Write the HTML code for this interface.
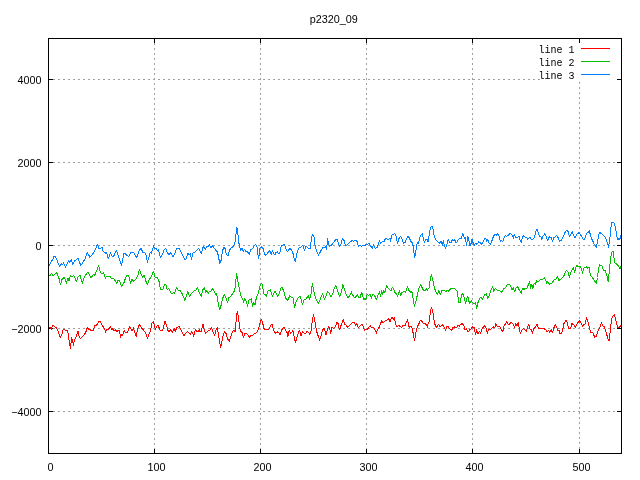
<!DOCTYPE html>
<html><head><meta charset="utf-8"><title>p2320_09</title>
<style>
html,body{margin:0;padding:0;background:#fff;}
body{width:640px;height:480px;overflow:hidden;}
svg{display:block;}
.t{font-family:"Liberation Sans","DejaVu Sans",sans-serif;font-size:10.8px;fill:#000;}
.k{font-family:"Liberation Mono","DejaVu Sans Mono",monospace;font-size:10px;fill:#000;}
</style></head><body>
<svg width="640" height="480" viewBox="0 0 640 480">
<rect width="640" height="480" fill="#fff"/>
<g stroke="#a0a0a0" stroke-width="1" stroke-dasharray="2 3" shape-rendering="crispEdges"><line x1="154.5" y1="38" x2="154.5" y2="454"/><line x1="260.5" y1="38" x2="260.5" y2="454"/><line x1="366.5" y1="38" x2="366.5" y2="454"/><line x1="472.5" y1="38" x2="472.5" y2="454"/><line x1="579.5" y1="82" x2="579.5" y2="454"/><line x1="48" y1="79.5" x2="622" y2="79.5"/><line x1="48" y1="162.5" x2="622" y2="162.5"/><line x1="48" y1="245.5" x2="622" y2="245.5"/><line x1="48" y1="328.5" x2="622" y2="328.5"/><line x1="48" y1="411.5" x2="622" y2="411.5"/></g>
<rect x="541" y="39" width="75" height="42" fill="#fff"/>
<g stroke="#000" stroke-width="1" shape-rendering="crispEdges"><line x1="48.5" y1="453.5" x2="48.5" y2="449.0"/><line x1="48.5" y1="38.5" x2="48.5" y2="43.0"/><line x1="154.5" y1="453.5" x2="154.5" y2="449.0"/><line x1="154.5" y1="38.5" x2="154.5" y2="43.0"/><line x1="260.5" y1="453.5" x2="260.5" y2="449.0"/><line x1="260.5" y1="38.5" x2="260.5" y2="43.0"/><line x1="366.5" y1="453.5" x2="366.5" y2="449.0"/><line x1="366.5" y1="38.5" x2="366.5" y2="43.0"/><line x1="472.5" y1="453.5" x2="472.5" y2="449.0"/><line x1="472.5" y1="38.5" x2="472.5" y2="43.0"/><line x1="579.5" y1="453.5" x2="579.5" y2="449.0"/><line x1="579.5" y1="38.5" x2="579.5" y2="43.0"/><line x1="48.5" y1="79.5" x2="53.0" y2="79.5"/><line x1="621.5" y1="79.5" x2="617.0" y2="79.5"/><line x1="48.5" y1="162.5" x2="53.0" y2="162.5"/><line x1="621.5" y1="162.5" x2="617.0" y2="162.5"/><line x1="48.5" y1="245.5" x2="53.0" y2="245.5"/><line x1="621.5" y1="245.5" x2="617.0" y2="245.5"/><line x1="48.5" y1="328.5" x2="53.0" y2="328.5"/><line x1="621.5" y1="328.5" x2="617.0" y2="328.5"/><line x1="48.5" y1="411.5" x2="53.0" y2="411.5"/><line x1="621.5" y1="411.5" x2="617.0" y2="411.5"/><rect x="48.5" y="38.5" width="573.0" height="415.0" fill="none"/></g>
<polyline fill="none" stroke="#ff0000" stroke-width="1" stroke-linejoin="round" shape-rendering="crispEdges" points="49,327.75 50.5,327.75 51.5,329.38 52.38,325.25 54.25,326.25 56.12,327.75 58,330.62 59.25,335 60.5,337.5 62,333.75 63,330 64,329 65.5,330.62 67.75,330.62 68.62,337.5 69.5,343.12 70.5,348.5 71.5,337.5 72.38,340 73.38,345.25 74.5,339.38 75.75,338.12 77,333.75 78,331.5 79.25,336.88 80.5,338.5 82.38,336.88 84.25,335 85.75,332.25 87.38,327.5 88.62,329 90.5,330 91.75,330.62 93.25,330.25 94.88,325.62 96.75,325 98.62,321.88 100.25,321.25 101.75,324.38 103.62,327.5 104.88,329 105.5,332.25 106.75,329.75 108.62,329 110.5,326.5 111.75,329.38 113,328.75 114,330.62 115.5,329.75 116.75,331.88 118,330.62 119.25,330 120.5,337.25 121.5,335 122.38,336 123.62,332.5 124,330.62 125.5,332.25 127.12,332.5 128.38,330 129.62,326.5 130.88,328.75 132.12,331 133.38,327.75 134.62,331.88 136.25,336.25 137.5,329.38 139.25,324.38 140.88,326.88 142.75,329.38 144.62,331.5 146.25,334.75 147.5,338.5 149,334.38 150.5,330.62 151.75,323.75 153.38,321.25 154.62,326.25 155.5,329.38 156.75,326 158,324.75 159.25,328.12 160.5,330.62 162.75,330.25 164,325 165,321.5 166.5,325 167.75,330 169,332.25 170.5,329.75 172.5,332.5 174.25,328.5 175.5,331.88 176.5,327.25 178,327.25 179,326.25 180.5,328.75 182.12,332.25 184,335.62 185.88,333.12 187.5,331.5 189,333.12 190.25,334.38 191.75,331.88 192.75,333.75 193.75,336.25 195.25,329.75 196.5,331 198,331.5 199.62,330 200,331.5 201.25,331.88 202.25,326.25 203.12,324.38 204.38,331.25 205.62,333.12 207.25,331.88 208.5,330 210,330 211.5,327.75 213.12,332.25 214.75,335.25 216,330 217.25,327.75 218.5,335 219.75,343.12 220.62,347.25 221.88,341.88 223.12,335 224.75,331.5 226.25,333.75 227.75,339.38 229.38,341.25 231,335.62 232.75,331.5 234,330.25 235,331.88 236,321.88 236.88,313.75 237.5,311.5 238.5,318.75 239.75,327.5 240.62,331.25 242.25,332.5 243.5,337.75 244.75,333.5 246.25,333.12 247.75,335 249.38,337.25 251,335.62 252.75,335 255,333.5 257.25,331.88 258.5,329.38 259.75,323.75 261.25,319.38 262.5,321.88 263.75,328.12 265,330 266.88,329.75 268.5,330 270.25,326.25 271.88,324 273.12,328.12 274.38,331.88 275.62,334 276,332.5 277.5,331.88 279.12,333.12 280.38,335 281.62,330 282.88,328.12 284.12,327.5 285.75,330.62 287,332.5 287.88,336.25 289.12,330 290.38,333.12 291.62,332.5 292.88,330.25 294.12,336.25 295.38,342.5 296.62,338.75 298.25,333.12 299.5,330.62 301,335.62 302.5,331.88 304.12,333.12 305.38,333.75 307,331 308.5,332.5 310,334.38 311.25,330 312.25,321.25 313.5,314.38 314.5,318.75 315.75,326.25 317,332.5 318.5,336.88 319.75,340.25 321,336.25 322.5,330 324.12,328.12 325,331.25 326,335.25 327.5,328.75 328.75,326.25 330,330 330.75,333.12 332,326.88 333.5,328.75 335.38,326.5 337,321.88 338.25,323.75 339.5,330 341,325.62 342.25,321.88 343.25,319.38 344.5,324.38 345.75,325 347.88,327.5 349.75,325 352,322.75 354.25,322.75 355.5,325 356.75,323.75 358.25,327.5 360.12,325.62 362.25,324 363.5,327.5 364.5,330.25 366,329 367.62,329 369.25,326.88 370.5,325.62 371.38,327.75 372.62,327.25 374.5,328.5 376.38,333.12 377.62,329.38 379.25,327.25 380.75,323.12 381.75,320.62 383,322.75 384.75,321.25 386.75,320.25 388.5,318.5 390.12,321.88 391.38,318.12 392.25,317.5 393.25,320 394.5,317.5 395.5,324.38 397,327.25 398.5,325.62 400.12,326.25 401.75,327.75 403.25,325 405.12,325.25 406.75,321.25 407.62,319.75 408.88,326.25 409.75,327.5 410.75,326.25 412,328.12 413.25,333.5 414.5,340.25 415.5,336.25 416.38,329.38 417.62,326.25 419.25,323.12 420.5,320.25 422.25,321.88 423.88,323.75 425.5,323.5 427,326.25 427.62,327.25 428,324.38 429.25,321.25 430.5,311.25 431.5,307.5 432.75,311.25 434,320 435.25,325.62 436.5,327.25 438.25,324.38 440.25,326.88 441.5,325.62 443,324.75 444.25,327.5 445.5,330.25 446.75,326.25 448,326.25 449.5,328.75 451.5,330.62 453,327.25 454.5,326.88 456.12,328.12 457.75,325.62 459.25,326.25 460.75,324.38 462.38,323.5 464,326.25 464.88,329.38 466.5,328.75 468.25,331.88 469.88,329.75 471.12,329 472.38,326.88 474,327.25 475.5,334.38 476.75,329.75 478,334.38 479.5,331.25 480.5,333.12 482,328.75 483.62,326.88 484.88,325.62 486.12,328.12 487.38,333.12 488.62,329.75 490.25,330 492,328.12 493.62,326.88 494.88,327.5 495.75,323.5 497,326 498.62,326.25 500.25,327.25 501.75,330 502.75,331.88 504,325.62 505.25,324.38 506.5,321.5 507.75,324 509.62,324 511.5,322.25 513,324 514.62,327.25 515.88,323.5 517.12,325.62 518.38,322.5 519.25,328.75 520.5,333.5 521.75,330 523.38,328.5 525,329.75 526.5,331 527.75,326.88 528.75,324.38 530,329.38 531.5,329.75 532.5,333.12 533.75,328.75 535.5,327.25 537.12,324.38 538.38,328.5 540.25,328.75 542.12,329 543.75,328.12 545.5,329.75 547.12,331.5 548.75,330.25 549.62,332.25 551.25,329.75 552.5,332.5 554,327.5 555.25,324.38 556.5,326.88 557.75,330.25 559,330 560,333.5 561.5,333.12 562.75,329.75 564,323.5 565.25,321.25 566.5,320.25 567.75,325 568.75,328.12 570.62,328.12 571.88,323.75 573.5,324.38 575.25,327.25 576.88,324 579.38,320.62 581,323.12 582.5,326.25 584,324.38 585.25,323.75 586.5,317.5 588.12,321.88 589.38,327.5 590.62,332.25 592.75,332.5 594.75,337.25 596.5,336 598.12,330.62 600,326.88 601.5,322.75 602.75,325.62 604,326.5 605.62,330.62 607.25,336.25 608.5,341 609.38,340.62 610.62,326.25 611.88,318.12 613.12,316 614.38,314.38 615.62,319.38 617.25,325.62 618.12,328.12 619.38,327.25 620.88,325.62"/>
<polyline fill="none" stroke="#00c000" stroke-width="1" stroke-linejoin="round" shape-rendering="crispEdges" points="49,275.62 50.5,275 51.75,273.12 53,275.62 54.25,275 56.5,272.5 58,275.62 59.5,280 60.5,285 62,279.38 64.25,277.25 66.5,283.12 68,278.12 69,280.62 70.5,275.62 72,276.88 73.62,275.25 75.25,278.12 76.5,281.88 78,276.88 79.88,275 82.38,283.12 84,278.12 85.25,275.62 88,271.88 90.5,277.25 92,276.88 93.62,274.38 94.5,275.62 96.5,271.25 98.62,265.62 100.25,271.88 101.75,273.75 103.62,272.5 105.25,278.12 106.75,276.5 109.88,276.5 111.75,278.5 114,278.75 116.75,283.12 118,280 119.88,281.25 121.75,286.88 123.62,283.12 124,282.5 125.5,278.12 127.12,275.25 128.38,275.62 129.62,278.75 130.5,284 131.75,279.38 133.75,281.25 136.5,278.5 138,274.75 139.62,269.38 140.88,273.75 142.5,277.25 144,274.75 145.88,281.25 147.5,284.38 149,280 150.88,277.25 153.62,271.25 155.25,277.5 157.5,277.5 159,281.5 160.5,289.38 162.75,289.75 164.25,285 165.88,284.38 167.12,289.38 168.75,288.75 171.5,293.5 173.38,292.75 174.62,293.5 175.25,290.62 176.5,287.5 177.75,290 179.62,290 182.12,293.5 184.88,300.25 186.25,296.25 187.5,291.88 188.38,292.25 189.62,296.88 191.25,293.5 192.75,292.75 194.62,290 195.88,290 197.5,287.5 199,291.88 200,293.75 201.25,296.25 202.75,289.75 204.38,287.5 205.62,292.75 206.88,290.62 208.12,293.5 209.75,291.25 211.25,291 212.5,288.5 214,290.62 215.62,294.38 216.5,293.75 217.75,300 218.75,306.25 219.75,309.38 221,305.62 222.5,298.75 224.38,294.38 226.25,298.75 227.5,302.25 229,297.5 230.62,296.88 232.75,293.12 234.38,291.25 235.62,284.38 236.5,273.12 237.5,278.75 238.5,285 239.75,290.62 241,296.25 242.5,298.75 243.75,302.5 244.75,298.12 246,300.62 247.5,306.25 249,300 251.25,298.75 252.5,306.25 253.75,302.5 255,305 256.5,296.88 258.12,293.75 259.75,286.88 261.25,283.12 262.5,285 263.75,293.75 265,294.38 266.25,296.25 268.12,290.62 270.25,289.75 272.5,296.25 274.75,291.25 276,292.75 277.88,296.5 279.5,292.5 280.75,288.12 282.25,287.75 283.75,291.25 285.38,297.5 287.25,300.25 288.25,299.38 289.75,295.62 291.62,297.5 292.88,297.25 293.75,302.5 294.75,307.25 296.25,301.25 298.25,297.25 300.38,296.5 301.62,300.62 302.5,305 304.12,300 306,299 308.25,295.62 309.75,299.38 311,293.75 312.5,283.12 313.5,290 315,295.62 316.25,300 318.25,303.5 320,300 322.5,293.5 324.5,299.38 326,296.25 327.5,291.5 329.5,293.75 331,296.5 332.88,293.5 334.12,288.12 335.75,285.62 337.5,290.62 339.75,296.88 341.25,292.5 342.88,284.38 344.5,289.38 346,293.75 347.88,297.5 349.75,295.62 351.62,291.5 352,293.75 353.88,296.88 355.5,297.25 357.25,294.75 358.5,297.25 360.12,297.25 361.75,292.25 362.62,295 363.5,300 365.12,298.12 366,299.38 367.25,294.38 368.5,295.25 370.12,294.38 371.38,298.12 372.62,294.75 374.25,295 376.38,299.38 378.25,294.75 379.5,291.5 380.5,296.88 381.75,290.62 382.62,295 383.5,290.62 384.75,292.5 385.5,290.62 386.75,285.25 388.25,288.75 389.5,289.38 391,291.25 392.25,287.5 393.5,288.75 394.75,292.5 396.38,293.75 397.62,296.25 399.5,290.62 400.5,295.62 402,292.5 403.5,291.5 405.5,292.25 407.62,286.5 409.25,291.25 410.75,292.25 412,291.88 413.25,300 414.5,306.25 416,300.62 417.25,295.62 418.88,288.75 420.5,284.38 422,287.5 423.5,290.25 425.12,290.25 426.38,288.5 427.62,290.25 428,289.38 429.25,287.5 430.5,277.5 431.5,275 433,280.62 434.5,288.12 436.12,292.5 437.38,294.75 438.62,290.62 440.25,294.38 442,290.62 443.62,290.25 445.5,291.5 447.38,290.62 448.25,291.5 450.5,289 452.38,288.12 454.25,288.12 455.75,289.75 457.38,291.25 458.62,302.5 460.25,302.5 461.5,295 462.75,293.5 464.25,297.5 465.5,303.5 467,298.12 467.75,296.25 469.5,303.5 471.12,300.62 472.38,302.5 474,303.5 475.5,302.5 476.75,308.12 478,302.5 479.88,298.12 481.12,297.5 482.38,300 484.25,295 486.12,293.75 487.75,298.12 489.5,295 491.12,290 492.75,286.25 493.62,291.25 495.5,288.5 497.38,290.62 499.25,290.25 501.5,292.25 503.25,290 504,288.5 505.88,287.5 507.12,285 509,284 510.5,285.62 512.12,290 513.38,287.5 514.62,291.88 515.88,288.12 517.5,286.5 519.25,290 521.25,293.5 522.5,288.12 524,289.38 525.5,288.12 527.12,288.12 528.38,284.38 529.62,281.5 530.5,288.12 531.75,284 532.75,288.75 534.25,283.12 535.25,284.38 536.75,280.62 538.38,281.88 540,279.75 541.5,279.38 543,279.38 544.25,277.25 545.5,280 546.75,283.12 547.75,281.88 549.62,284.38 552.12,283.12 554,280 555.5,279.75 557.5,276.5 559,280.62 560,279.75 561.88,278.12 563.75,276.25 565.25,272.25 566.5,270.25 568.12,272.25 569.38,277.5 570.62,272.5 572.25,269.38 573.5,267.75 574.75,272.5 575.62,267.25 576.88,265.62 578.5,266.5 579.75,266.25 581.25,268.5 582.5,273.12 583.75,268.12 585,267.75 586.25,266.5 587.75,268.12 589,267.5 590.62,275.62 592.25,277.5 594.38,280.62 596.25,283.5 597.5,277.5 598.5,269 599.75,264.75 601.88,265.62 603.75,270.62 605.25,270 606.88,275.62 608.12,281.25 609.38,271.25 610.62,257.5 611.88,251.88 613.5,251.5 614.38,262.5 616.25,263.75 618.12,265.62 620,268.5 620.88,266.25"/>
<polyline fill="none" stroke="#0080ff" stroke-width="1" stroke-linejoin="round" shape-rendering="crispEdges" points="49,265.62 50.75,262.5 51.75,260 52.5,260.62 53.62,256.5 54.88,256.25 56.5,258.5 58,262.75 59.5,266.25 61.12,263.75 62.38,264.75 63.62,262.75 65.5,267.5 67.38,262.75 68.62,260.62 69.5,262.75 71.12,259.75 72.75,264.38 74.88,260.62 78,258.5 80.75,265.25 82.38,263.5 84.88,259 87.38,252.5 89.88,257.25 91.5,255.62 94.88,250.62 97.38,244.38 98.62,248.12 100.5,248.5 102,247.5 103,251.25 104.88,253.12 106.75,252.75 108.38,259 110.5,252.5 112.38,256.88 114,255.62 116.38,250.25 118.62,256.88 121.5,265.62 123.62,255 124,253.12 125.5,253.75 127.12,255.62 129,256.25 130.88,252.75 132.75,252.25 134.25,253.12 136.5,257.5 137.75,255 139.25,249.75 141.25,248.5 142.75,252.5 144.62,252.25 146.25,255.62 147.5,262.25 149,256.88 150.25,252.5 151.25,253.12 153.62,246 155,248.75 156.25,248.5 157.5,250.62 158.38,250 160.5,257.25 162.12,255 164,250 165.62,248.5 167.12,251.88 168.75,255 170.5,252.75 173,256.5 174.62,254.38 176.5,248.75 179,248.5 180.88,251.88 182.75,255 184.62,259.75 185.88,259 187.75,253.5 189.62,255 190.5,253.75 191.5,259.38 192.75,253.12 194.25,252.5 196.5,250.62 198.75,248.12 200,250.62 201.25,253.75 202.75,248.12 203.75,246 205.25,250 206.88,246.25 207.75,246.88 209.38,244.75 211,248.12 212.5,245.62 214.38,248.5 216.25,250.62 217.5,251.88 218.75,258.12 219.75,263.12 221,260.62 222.5,250.62 224,247.25 225.25,248.75 226.5,255 228.12,255.25 229.75,250 231.25,247.75 232.75,246.88 234.38,244.38 235.38,240.62 236.25,231.25 236.88,227.25 237.75,232.5 238.75,242.5 239.75,246.25 240.62,250.62 241.88,248.12 243.12,251.25 244.38,249.38 246,251.5 247.25,251.25 249.38,254.38 251,249.38 252.5,248.75 254,246.25 255.62,244.38 256.88,245.62 257.75,253.75 258.75,258.12 259.75,248.75 261.25,246.5 263.12,248.75 264.75,254.38 266,255.25 268.12,252.5 270,250.62 271.25,255 272.5,250.62 273.75,253.75 274.75,255 276,252.25 277.5,251.88 278.75,254 279.75,253.12 281.25,246.25 282.88,245 284.5,244.75 285.75,248.75 287.5,251.5 289.12,249.38 290.38,248.5 292.25,251.25 293.5,255 294.5,260 295.38,261.5 296.62,255 297.88,250 299.12,248.12 301,246.88 302.88,245.25 304.5,250.62 306,246.25 307.5,247.75 309.12,248.75 310.38,249 311.38,237.5 312.88,234.38 314.12,237.25 315,245 316.25,250 318.5,255.25 320,252.5 321.62,249.38 323.25,247.25 324.75,247.75 326.25,246.25 326.62,250 327.5,238.75 328.25,241.88 329.5,246.25 331.62,245 333.75,242.25 335.38,240 337,239.38 337.88,241.88 339.5,246.25 341,243.75 342.5,238.12 344.12,240.62 345.38,245 347,245.25 349.12,243.12 351,241.25 352,240.62 353.88,241.25 355.5,240.25 357,241.25 358.5,246.25 360.12,245.25 361.38,246.25 363,245.25 364.5,246 365.75,244.38 367.62,244.38 368.88,243.5 370.75,246 372.25,248.12 373.5,244.75 375.12,248.5 377,247.5 378.5,243.75 379.5,240.62 380.75,243.12 382.62,241.5 384.25,241.25 385.5,238.5 387,239 388.88,239 390.12,238.12 390.5,241.25 391.75,235 393.25,234.38 394.75,233.5 396,236.25 397.62,243.12 399.25,237.75 400.75,236.5 402,238.75 403.5,243.12 405.12,242.25 406.75,238.75 408,236.5 409.25,237.75 410.75,241.25 412,242.5 413.25,246.25 414.5,257.25 415.5,255 416.38,246.25 417.62,242.25 418.5,243.75 419.75,237.75 421,235 422.25,233.75 423.25,238.12 424.5,242.25 425.75,239.38 427,239 428,241.88 429.25,235 430.5,227.5 432,226.25 433.25,230 434.5,237.5 436.12,240 438,242.25 439.25,243.12 441.12,241.25 442.38,245.62 443.25,240.62 444.25,245.62 445.5,248.5 447,244.38 448.25,239.38 449.5,242.25 451.12,242.25 452.38,239.75 454,241.25 454.5,239.38 456.12,243.12 457.75,240.62 459.5,238.12 461.5,238.12 462.75,233.5 463.62,235.62 464.5,238.5 465.5,237.75 466.5,245.62 467.75,236.25 468.62,239.38 469.88,245.62 470.75,244.75 472,238.75 473,242.5 474.25,245.62 475.5,243.12 477,244.38 478.62,241.88 479.88,242.5 481.5,244.38 483,241.88 484.88,238.75 485.75,238.5 486.75,241.25 487.75,239.38 489,243.12 490.5,244.38 491.75,241.25 493.62,235.62 495.5,234.38 496.5,235 497.75,233.5 499,236.25 500.5,241.25 501.75,240.62 502.75,241.5 504,238.12 505.25,235.62 506.75,236.5 508.75,234.75 510.5,233.12 512.12,235.25 513.38,238.12 514.25,234.38 515.5,237.25 517.5,237.5 519,236.25 520.25,241 521.25,242.25 522.5,237.5 523.38,235.62 525,236.88 526.5,237.5 527.75,239.38 529.62,237.25 531.5,239.38 533,239 534.62,237.25 535.88,231.25 537.12,229.38 538.38,233.12 539.62,236.88 540.88,236.5 541.75,239.38 543,236.25 544.62,234 546.25,236.25 547.75,241 549.25,236.88 550.88,237.25 552.5,241.25 554,237.5 555.5,236.88 556.5,235.25 558,237.5 559.62,241 560,241.25 561.5,240 563.12,236.88 565,232.5 566.88,230 568.12,231.5 569.38,236.88 570.62,234.38 572.25,231.88 573.5,235 575.25,237.75 576.88,234.38 579.38,232.25 580.62,235 582.25,237.5 583.75,240 585,238.12 586.5,233.12 588.12,232.5 589.38,230.62 590.62,236.25 592.25,240 594.38,244.38 596.25,247.25 597.5,242.5 598.5,235 599.75,232.5 601.88,233.75 603.75,235.62 605.62,237.75 607.25,242.5 608.5,247.25 609.75,240 610.62,228.75 611.88,222.5 613.75,222.5 615.25,226.25 616.5,234.38 617.75,240 619,237.75 620,239.38 620.88,235"/>
<text class="t" x="41.5" y="84.0" text-anchor="end">4000</text><text class="t" x="41.5" y="167.0" text-anchor="end">2000</text><text class="t" x="41.5" y="250.0" text-anchor="end">0</text><text class="t" x="41.5" y="333.0" text-anchor="end">−2000</text><text class="t" x="41.5" y="416.0" text-anchor="end">−4000</text><text class="t" x="50.5" y="471" text-anchor="middle">0</text><text class="t" x="156.5" y="471" text-anchor="middle">100</text><text class="t" x="262.5" y="471" text-anchor="middle">200</text><text class="t" x="368.5" y="471" text-anchor="middle">300</text><text class="t" x="474.5" y="471" text-anchor="middle">400</text><text class="t" x="581.5" y="471" text-anchor="middle">500</text><text class="t" x="333.7" y="23" text-anchor="middle">p2320_09</text><text class="k" x="574.4" y="53" text-anchor="end" xml:space="preserve">line 1</text><text class="k" x="574.4" y="66" text-anchor="end" xml:space="preserve">line 2</text><text class="k" x="574.4" y="79" text-anchor="end" xml:space="preserve">line 3</text>
<line x1="581" y1="48.5" x2="610" y2="48.5" stroke="#ff0000" stroke-width="1" shape-rendering="crispEdges"/><line x1="581" y1="61.5" x2="610" y2="61.5" stroke="#00c000" stroke-width="1" shape-rendering="crispEdges"/><line x1="581" y1="74.5" x2="610" y2="74.5" stroke="#0080ff" stroke-width="1" shape-rendering="crispEdges"/>
</svg></body></html>
